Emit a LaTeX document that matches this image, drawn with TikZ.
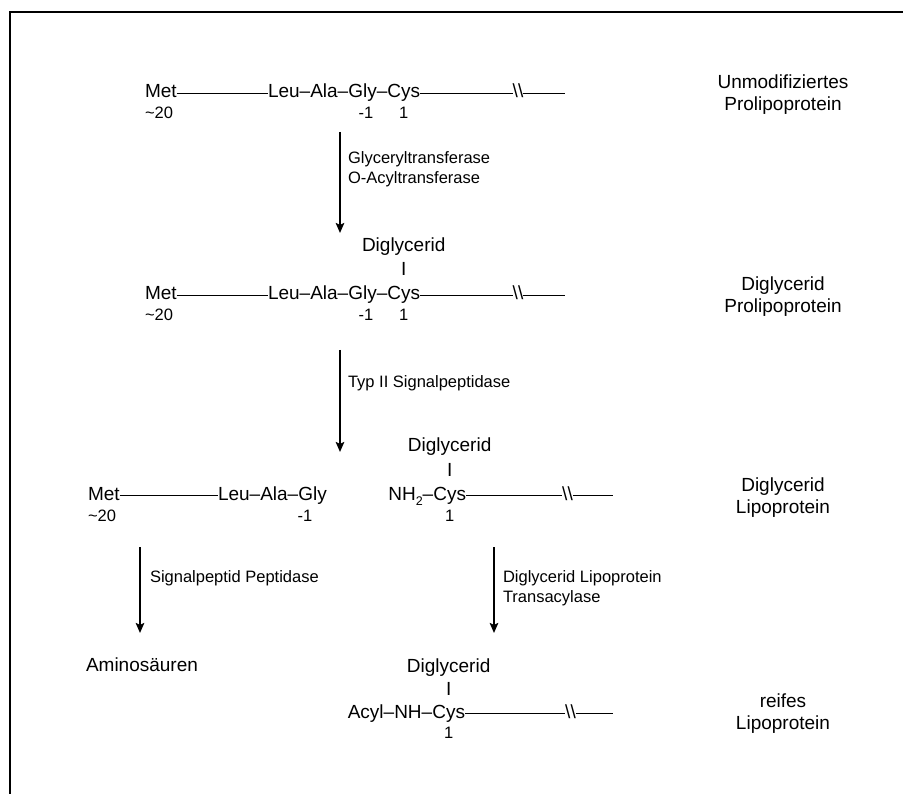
\documentclass[tikz,border=0pt]{standalone}
\usepackage{fontspec}
\setmainfont{Liberation Sans}
\usetikzlibrary{arrows.meta}
\tikzset{
  big/.style={font=\fontsize{19}{22}\selectfont, inner sep=0pt, outer sep=0pt},
  small/.style={font=\fontsize{16.5}{20}\selectfont, inner sep=0pt, outer sep=0pt},
  chainline/.style={line width=0.8pt},
  reaction/.style={line width=2pt, -{Stealth[length=10pt,width=8.5pt,inset=2pt]}},
  frame/.style={line width=2pt},
}
\newcommand{\subtwo}{\raisebox{-0.28em}{\fontsize{12.5}{12.5}\selectfont 2}}
\begin{document}
\begin{tikzpicture}[x=1pt,y=-1pt]
\useasboundingbox (0,0) rectangle (903,794);
\draw[frame] (10,794) -- (10,12) -- (903,12);

% ---------- Row 1 ----------
\node[big, anchor=base west] (met1) at (145,98) {Met};
\node[big, anchor=base west] (pre1) at (268,98) {Leu–Ala–Gly–};
\node[big, anchor=base west] (cys1) at (pre1.base east) {Cys};
\node[big, anchor=base] (brk1) at (518,98) {\textbackslash\textbackslash};
\coordinate (end1) at (565,98);
\draw[chainline] ([yshift=4.8pt]met1.base east) -- ([yshift=4.8pt]pre1.base west);
\draw[chainline] ([yshift=4.8pt]cys1.base east) -- ([yshift=4.8pt]brk1.base west);
\draw[chainline] ([yshift=4.8pt]brk1.base east) -- ([yshift=4.8pt]end1);
\node[small, anchor=base west] (n20a) at ([yshift=-21pt]met1.base west) {\textasciitilde20};
\node[small, anchor=base] (mia) at (366,119) {-1};
\node[small, anchor=base] (pla) at ([yshift=-21pt]cys1.base) {1};
\node[big, anchor=base] (lab1a) at (783,89) {Unmodifiziertes};
\node[big, anchor=base] (lab1b) at (783,111) {Prolipoprotein};

% ---------- Arrow 1 ----------
\coordinate (a1s) at (340,132);
\coordinate (a1e) at (340,233);
\draw[reaction] (a1s) -- (a1e);
\node[small, anchor=base west] (enz1a) at (348,164) {Glyceryltransferase};
\node[small, anchor=base west] (enz1b) at (348,184) {O-Acyltransferase};

% ---------- Row 2 ----------
\node[big, anchor=base west] (met2) at (145,300) {Met};
\node[big, anchor=base west] (pre2) at (268,300) {Leu–Ala–Gly–};
\node[big, anchor=base west] (cys2) at (pre2.base east) {Cys};
\node[big, anchor=base] (brk2) at (518,300) {\textbackslash\textbackslash};
\coordinate (end2) at (565,300);
\draw[chainline] ([yshift=4.8pt]met2.base east) -- ([yshift=4.8pt]pre2.base west);
\draw[chainline] ([yshift=4.8pt]cys2.base east) -- ([yshift=4.8pt]brk2.base west);
\draw[chainline] ([yshift=4.8pt]brk2.base east) -- ([yshift=4.8pt]end2);
\node[small, anchor=base west] (n20b) at ([yshift=-21pt]met2.base west) {\textasciitilde20};
\node[small, anchor=base] (mib) at (366,321) {-1};
\node[small, anchor=base] (plb) at ([yshift=-21pt]cys2.base) {1};
\node[big, anchor=base] (bar2) at ([yshift=24pt]cys2.base) {I};
\node[big, anchor=base] (dg2) at ([yshift=48pt]cys2.base) {Diglycerid};
\node[big, anchor=base] (lab2a) at (783,291) {Diglycerid};
\node[big, anchor=base] (lab2b) at (783,313) {Prolipoprotein};

% ---------- Arrow 2 ----------
\coordinate (a2s) at (340,350);
\coordinate (a2e) at (340,452);
\draw[reaction] (a2s) -- (a2e);
\node[small, anchor=base west] (enz2) at (348,388) {Typ II Signalpeptidase};

% ---------- Row 3 ----------
\node[big, anchor=base west] (met3) at (88,500) {Met};
\node[big, anchor=base west] (pre3) at (218,500) {Leu–Ala–Gly};
\draw[chainline] ([yshift=4.8pt]met3.base east) -- ([yshift=4.8pt]pre3.base west);
\node[small, anchor=base west] (n20c) at ([yshift=-21pt]met3.base west) {\textasciitilde20};
\node[small, anchor=base] (mic) at (305,521) {-1};

\node[big, anchor=base east] (cys3) at (466,500) {Cys};
\node[big, anchor=base east] (nh3) at (cys3.base west) {NH\subtwo–};
\node[big, anchor=base] (brk3) at (567.5,500) {\textbackslash\textbackslash};
\coordinate (end3) at (613,500);
\draw[chainline] ([yshift=4.8pt]cys3.base east) -- ([yshift=4.8pt]brk3.base west);
\draw[chainline] ([yshift=4.8pt]brk3.base east) -- ([yshift=4.8pt]end3);
\node[small, anchor=base] (plc) at ([yshift=-21pt]cys3.base) {1};
\node[big, anchor=base] (bar3) at ([yshift=24pt]cys3.base) {I};
\node[big, anchor=base] (dg3) at ([yshift=49pt]cys3.base) {Diglycerid};
\node[big, anchor=base] (lab3a) at (783,491) {Diglycerid};
\node[big, anchor=base] (lab3b) at (783,513) {Lipoprotein};

% ---------- Arrows 3 ----------
\coordinate (a3s) at (140,547);
\coordinate (a3e) at (140,633);
\draw[reaction] (a3s) -- (a3e);
\node[small, anchor=base west] (enz3) at (150,582) {Signalpeptid Peptidase};
\coordinate (a4s) at (494,547);
\coordinate (a4e) at (494,633);
\draw[reaction] (a4s) -- (a4e);
\node[small, anchor=base west] (enz4a) at (503,582) {Diglycerid Lipoprotein};
\node[small, anchor=base west] (enz4b) at (503,602) {Transacylase};

% ---------- Row 4 ----------
\node[big, anchor=base west] (amino) at (86,671) {Aminosäuren};
\node[big, anchor=base east] (cys4) at (465,718) {Cys};
\node[big, anchor=base east] (pre4) at (cys4.base west) {Acyl–NH–};
\node[big, anchor=base] (brk4) at (570.5,718) {\textbackslash\textbackslash};
\coordinate (end4) at (613,718);
\draw[chainline] ([yshift=4.8pt]cys4.base east) -- ([yshift=4.8pt]brk4.base west);
\draw[chainline] ([yshift=4.8pt]brk4.base east) -- ([yshift=4.8pt]end4);
\node[small, anchor=base] (pld) at ([yshift=-20pt]cys4.base) {1};
\node[big, anchor=base] (bar4) at ([yshift=23pt]cys4.base) {I};
\node[big, anchor=base] (dg4) at ([yshift=46pt]cys4.base) {Diglycerid};
\node[big, anchor=base] (lab4a) at (783,707) {reifes};
\node[big, anchor=base] (lab4b) at (783,729) {Lipoprotein};
\end{tikzpicture}
\end{document}
